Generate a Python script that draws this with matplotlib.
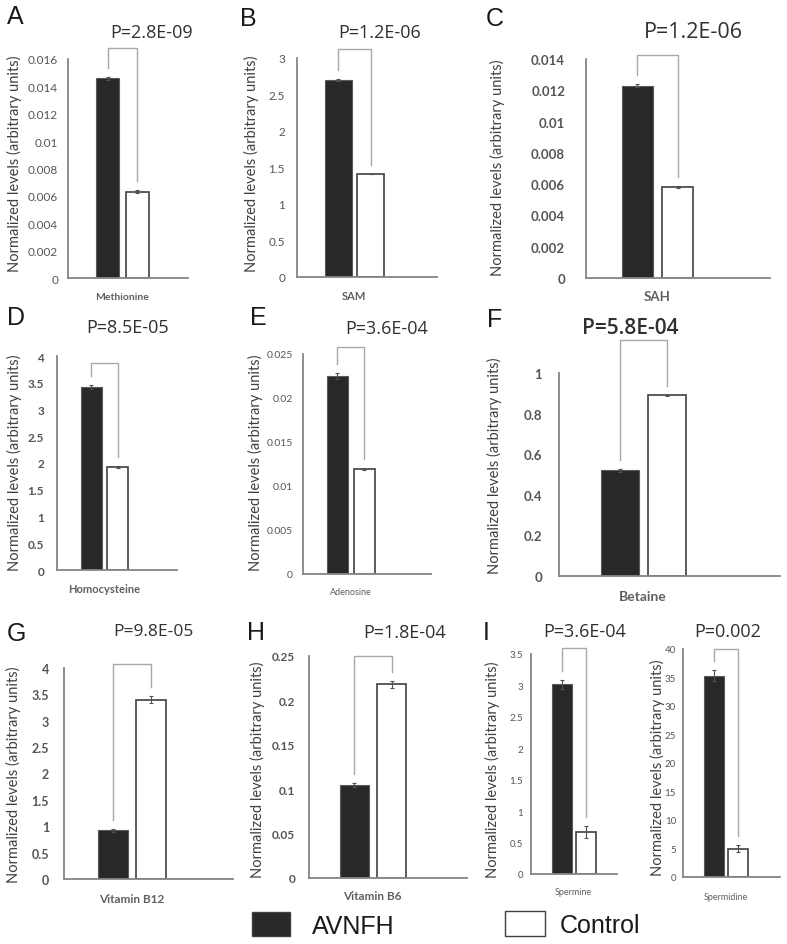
import matplotlib

matplotlib.use("Agg")
import matplotlib.pyplot as plt
import matplotlib.transforms as mtransforms
from matplotlib.patches import Rectangle
from matplotlib.ticker import MultipleLocator, FuncFormatter

# ---- data ----
metabolites = ["Methionine", "SAM", "SAH", "Homocysteine", "Adenosine",
               "Betaine", "Vitamin B12", "Vitamin B6", "Spermine", "Spermidine"]
avnfh_means = [0.0146, 2.70, 0.0123, 3.42, 0.0225, 0.52, 0.92, 0.105, 3.02, 35.3]
avnfh_errors = [0.0001, 0.01, 0.0001, 0.04, 0.0003, 0.006, 0.02, 0.002, 0.07, 1.0]
control_means = [0.0063, 1.41, 0.0058, 1.92, 0.0119, 0.89, 3.40, 0.218, 0.67, 5.0]
control_errors = [0.0001, 0.005, 0.00005, 0.02, 0.0001, 0.004, 0.07, 0.004, 0.10, 0.6]
p_values = ["P=2.8E-09", "P=1.2E-06", "P=1.2E-06", "P=8.5E-05", "P=3.6E-04",
            "P=5.8E-04", "P=9.8E-05", "P=1.8E-04", "P=3.6E-04", "P=0.002"]
y_max = [0.016, 3, 0.014, 4, 0.025, 1, 4, 0.25, 3.5, 40]
y_step = [0.002, 0.5, 0.002, 0.5, 0.005, 0.2, 0.5, 0.05, 0.5, 5]
panel_letters = ["A", "B", "C", "D", "E", "F", "G", "H", "I", ""]
groups = ["AVNFH", "Control"]

# ---- layout (pixels) ----
W, H = 787, 945
# axes box (left, top, right, bottom), bar centres, bar width, bracket top
axes_px = [(68, 60, 188, 279), (297, 59, 437, 278), (586, 60, 770, 279),
           (57, 357, 177, 571), (303, 355, 431, 575), (559, 374, 780, 577),
           (64, 669, 233, 880), (309, 657, 467, 879), (531, 655, 617, 875),
           (683, 650, 780, 878)]
centers_px = [(107.5, 137), (338, 370.5), (637, 677.5), (91, 117.5), (337, 364),
              (619.5, 666.5), (112.5, 150.5), (354, 391.5), (561.5, 586), (713.5, 738)]
bar_w_px = [23, 27, 31, 21, 21, 38, 30, 29, 20, 20]
bracket_top_px = [49, 50, 56, 364, 348, 341, 665, 657, 649, 650]
p_pos = [(152, 33, 13, "normal"), (380, 33, 13, "normal"), (693, 32, 15.5, "normal"),
         (128, 328, 13, "normal"), (387, 329, 13, "normal"), (630, 329, 15, "semibold"),
         (153, 632, 12.5, "normal"), (405, 633, 13, "normal"), (585, 632, 13, "normal"),
         (728, 632, 13, "normal")]
letter_pos = [(15, 17), (248, 19), (495, 19), (16, 318), (258, 318), (495, 320),
              (16, 634), (256, 633), (486, 633), (0, 0)]
ylabel_pos = [(14, 164), (251, 164), (497, 168), (14, 463), (255, 463), (494, 466),
              (13, 775), (257, 770), (492, 770), (657, 768)]
xlabel_pos = [(297, 7.5, "bold"), (297, 8, "bold"), (297, 9.5, "bold"),
              (590, 8, "bold"), (593, 6.5, "normal"), (597, 10, "bold"),
              (900, 8.5, "bold"), (897, 8.5, "bold"), (893, 6.5, "normal"),
              (898, 6.5, "normal")]
tick_style = [(8.5, "normal", 10), (8.5, "normal", 12), (9.5, "bold", 21), (8.5, "bold", 13),
              (7.5, "normal", 10), (9.5, "bold", 17), (9, "bold", 15), (8.5, "bold", 14),
              (7, "normal", 8), (7, "normal", 7)]

DARK = "#282828"
AXIS = "#858585"
TICK = "#555555"

fig = plt.figure(figsize=(W / 100, H / 100), dpi=100)


def fx(x):
    return x / W


def fy(y):
    return 1 - y / H


def fmt(v, _):
    return f"{round(v, 6):g}"


for i, name in enumerate(metabolites):
    l, t, r, b = axes_px[i]
    ax = fig.add_axes([l / W, 1 - b / H, (r - l) / W, (b - t) / H])
    c0, c1 = centers_px[i]
    gap = c1 - c0
    ax.set_xlim((l - c0) / gap, (r - c0) / gap)
    ax.set_ylim(0, y_max[i])
    width = bar_w_px[i] / gap

    ax.bar([0], [avnfh_means[i]], width, color=DARK, edgecolor="#5a5a5a", linewidth=0.8, zorder=2)
    ax.bar([1], [control_means[i]], width, color="white", edgecolor="#404040", linewidth=1.2, zorder=2)
    ax.errorbar([0, 1], [avnfh_means[i], control_means[i]],
                yerr=[avnfh_errors[i], control_errors[i]], fmt="none",
                ecolor="#505050", elinewidth=0.8, capsize=1.5, capthick=0.8, zorder=3)

    # significance bracket
    ax_h = b - t
    top_frac = (b - bracket_top_px[i]) / ax_h
    left_end = (avnfh_means[i] + avnfh_errors[i]) / y_max[i] + 9 / ax_h
    right_end = (control_means[i] + control_errors[i]) / y_max[i] + 9 / ax_h
    trans = mtransforms.blended_transform_factory(ax.transData, ax.transAxes)
    ax.plot([0, 0, 1, 1], [left_end, top_frac, top_frac, right_end], color="#a8a8a8",
            linewidth=1.0, transform=trans, clip_on=False, zorder=1)

    for s in ["top", "right"]:
        ax.spines[s].set_visible(False)
    for s in ["left", "bottom"]:
        ax.spines[s].set_color(AXIS)
        ax.spines[s].set_linewidth(1.3)
    ax.set_xticks([])
    ax.yaxis.set_major_locator(MultipleLocator(y_step[i]))
    ax.yaxis.set_major_formatter(FuncFormatter(fmt))
    ts, tw, tp = tick_style[i]
    ax.tick_params(axis="y", length=0, pad=tp / 1.389, labelsize=ts, labelcolor=TICK)
    for lab in ax.get_yticklabels():
        lab.set_fontweight(tw)
        lab.set_fontfamily("Lato")

    # category label
    xl_y, xl_size, xl_w = xlabel_pos[i]
    fig.text(fx((c0 + c1) / 2), fy(xl_y), name, ha="center", va="center",
             fontsize=xl_size, fontweight=xl_w, color="#606060", family="Lato")

    # y label
    yx, yy = ylabel_pos[i]
    fig.text(fx(yx), fy(yy), "Normalized levels (arbitrary units)", rotation=90,
             ha="center", va="center", fontsize=10.5, color="#404040", family="Lato")

    # p-value
    px, py, psize, pw = p_pos[i]
    fig.text(fx(px), fy(py), p_values[i], ha="center", va="center", fontsize=psize,
             fontweight=pw, color="#303030", family="Open Sans")

    # panel letter
    if panel_letters[i]:
        lx, ly = letter_pos[i]
        fig.text(fx(lx), fy(ly), panel_letters[i], ha="center", va="center",
                 fontsize=18, color="#1a1a1a", family="Liberation Sans")

# legend
legend_boxes = [(252, 913, 290, 937, DARK), (505, 912, 545, 937, "white")]
legend_text_x = [312, 560]
for (x0, y0, x1, y1, col), tx, label in zip(legend_boxes, legend_text_x, groups):
    fig.patches.append(Rectangle((fx(x0), fy(y1)), fx(x1) - fx(x0), fy(y0) - fy(y1),
                                 transform=fig.transFigure, facecolor=col,
                                 edgecolor="#404040", linewidth=1.0))
    fig.text(fx(tx), fy((y0 + y1) / 2 + 2), label, ha="left", va="center",
             fontsize=18, color="#1a1a1a", family="Liberation Sans")

fig.savefig("out.png", dpi=100)
